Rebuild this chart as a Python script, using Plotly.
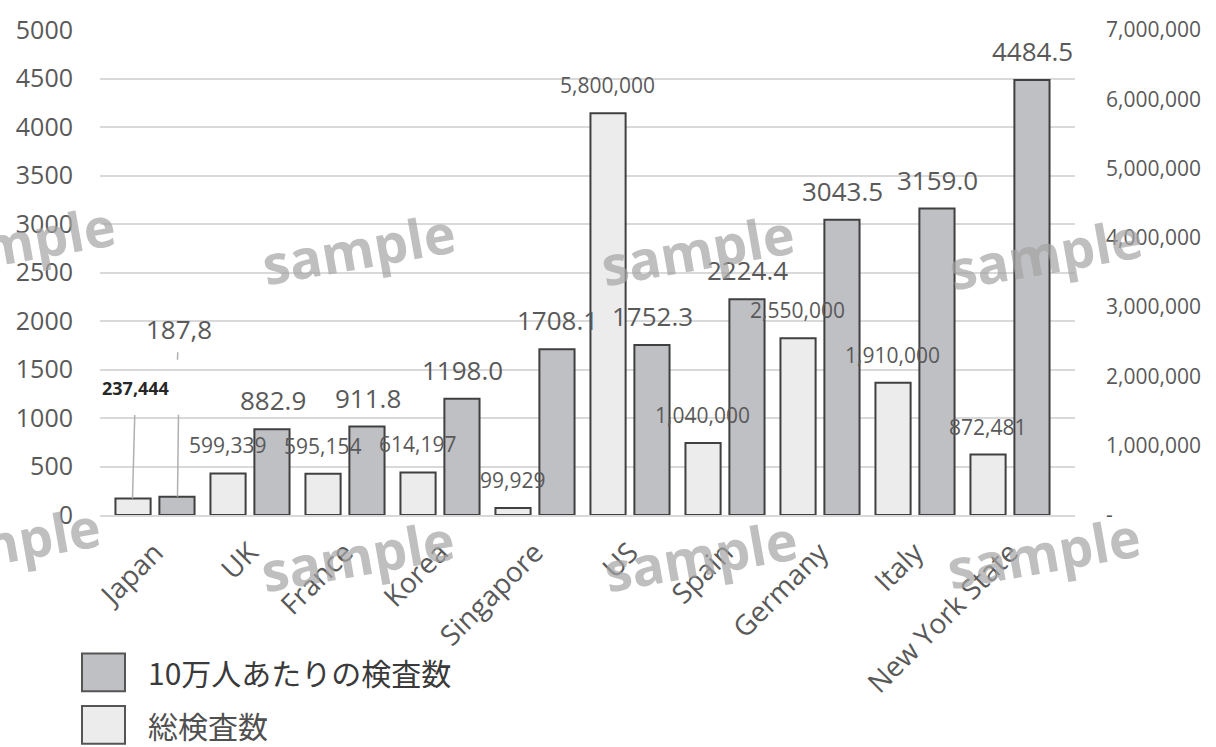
import plotly.graph_objects as go

# Data: PCR testing by country/region
categories = ["Japan", "UK", "France", "Korea", "Singapore", "US",
              "Spain", "Germany", "Italy", "New York State"]
tests_per_100k = [187.8, 882.9, 911.8, 1198.0, 1708.1, 1752.3,
                  2224.4, 3043.5, 3159.0, 4484.5]
total_tests = [237444, 599339, 595154, 614197, 99929, 5800000,
               1040000, 2550000, 1910000, 872481]

left_ticks = [0, 500, 1000, 1500, 2000, 2500, 3000, 3500, 4000, 4500, 5000]
right_ticks = [0, 1000000, 2000000, 3000000, 4000000, 5000000, 6000000, 7000000]
right_tick_text = ["-"] + [f"{v:,}" for v in right_ticks[1:]]

series_names = ["10万人あたりの検査数", "総検査数"]
watermark = "sample"

DARK_FILL = "#bfc0c4"
LIGHT_FILL = "#ececec"
EDGE = "#404040"
TEXT = "#595959"
FONT = "Open Sans"

# plot-area geometry in pixels (used for paper-space placement)
PL, PR, PT, PB = 100, 1075, 25, 515
PW, PH = PR - PL, PB - PT


def px_x(px):
    return (px - PL) / PW


def px_y(py):
    return (PB - py) / PH


fig = go.Figure()

fig.add_trace(go.Bar(
    x=categories, y=total_tests, name=series_names[1], yaxis="y2",
    offsetgroup="total", marker=dict(color=LIGHT_FILL, line=dict(color=EDGE, width=2)),
    showlegend=False,
))
fig.add_trace(go.Bar(
    x=categories, y=tests_per_100k, name=series_names[0], yaxis="y",
    offsetgroup="per100k", marker=dict(color=DARK_FILL, line=dict(color=EDGE, width=2)),
    showlegend=False,
))

BAR_SHIFT = 22.5
annotations = []

# value labels above bars
for i, cat in enumerate(categories):
    if i == 0:
        continue
    annotations.append(dict(
        x=cat, y=total_tests[i], xref="x", yref="y2", xshift=-BAR_SHIFT, yshift=28,
        text=f"{total_tests[i]:,}", showarrow=False,
        font=dict(family=FONT, size=21, color=TEXT), xanchor="center", yanchor="middle",
    ))
    annotations.append(dict(
        x=cat, y=tests_per_100k[i], xref="x", yref="y", xshift=BAR_SHIFT, yshift=29,
        text=f"{tests_per_100k[i]:.1f}", showarrow=False,
        font=dict(family=FONT, size=26, color=TEXT), xanchor="center", yanchor="middle",
    ))

# Japan labels sit higher with leader lines
annotations.append(dict(
    x=categories[0], y=total_tests[0], xref="x", yref="y2", xshift=-BAR_SHIFT,
    text=f"<b>{total_tests[0]:,}</b>", showarrow=True, arrowhead=0, arrowwidth=1.5,
    arrowcolor="#b0b0b0", ax=3, ay=-111, startstandoff=14,
    font=dict(family=FONT, size=18, color="#262626"),
))
annotations.append(dict(
    x=categories[0], y=tests_per_100k[0], xref="x", yref="y", xshift=BAR_SHIFT, yshift=137,
    text=f"{tests_per_100k[0]:.1f}".replace(".", ","), showarrow=True, arrowhead=0,
    arrowwidth=1.5, arrowcolor="#b0b0b0", ax=1, ay=-31, startstandoff=4,
    font=dict(family=FONT, size=26, color=TEXT),
))
annotations.append(dict(
    x=categories[0], y=tests_per_100k[0], xref="x", yref="y", xshift=BAR_SHIFT,
    text=" ", showarrow=True, arrowhead=0, arrowwidth=1.5, arrowcolor="#b0b0b0",
    ax=1, ay=-84, font=dict(size=1),
))

# legend drawn as swatches + text
legend_rows = [(655, 693, DARK_FILL, series_names[0], "#3a3a3a"),
               (708, 746, LIGHT_FILL, series_names[1], "#505050")]
shapes = []
for top, bot, fill, label, col in legend_rows:
    shapes.append(dict(
        type="rect", xref="paper", yref="paper",
        x0=px_x(82), x1=px_x(125), y0=px_y(bot), y1=px_y(top),
        fillcolor=fill, line=dict(color="#555555", width=2),
    ))
    annotations.append(dict(
        x=px_x(146), y=px_y((top + bot) / 2), xref="paper", yref="paper",
        text=label, showarrow=False, xanchor="left", yanchor="middle",
        font=dict(family="Noto Sans CJK JP", size=30, color=col),
    ))

# watermark stamps
for cx, cy in [(18, 238), (358, 245), (697, 246), (1045, 250),
               (3, 542), (357, 555), (700, 555), (1043, 552)]:
    annotations.append(dict(
        x=px_x(cx), y=px_y(cy), xref="paper", yref="paper", text=watermark,
        showarrow=False, textangle=-10, opacity=0.7,
        xanchor="center", yanchor="middle",
        font=dict(family=FONT, size=54, color="#a4a4a4", weight="bold"),
    ))

fig.update_layout(
    width=1216, height=747,
    margin=dict(l=PL, r=1216 - PR, t=PT, b=747 - PB),
    paper_bgcolor="white", plot_bgcolor="white",
    barmode="group", bargap=0.075, bargroupgap=0.2,
    xaxis=dict(
        type="category", tickangle=-45, showgrid=False,
        showline=True, linecolor="#d9d9d9", linewidth=2, ticks="",
        tickfont=dict(family=FONT, size=28, color=TEXT), ticklabelstandoff=8,
    ),
    yaxis=dict(
        range=[0, 5000], tickvals=left_ticks, tickformat="d",
        showgrid=True, gridcolor="#d9d9d9", gridwidth=2, zeroline=False,
        showline=False, ticks="", ticklabelstandoff=26,
        tickfont=dict(family=FONT, size=25, color=TEXT),
    ),
    yaxis2=dict(
        range=[0, 7000000], overlaying="y", side="right",
        tickvals=right_ticks, ticktext=right_tick_text,
        showgrid=False, zeroline=False, showline=False, ticks="",
        ticklabelstandoff=30, tickfont=dict(family=FONT, size=21, color=TEXT),
    ),
    shapes=shapes,
    annotations=annotations,
)

fig.write_html("out.html")
